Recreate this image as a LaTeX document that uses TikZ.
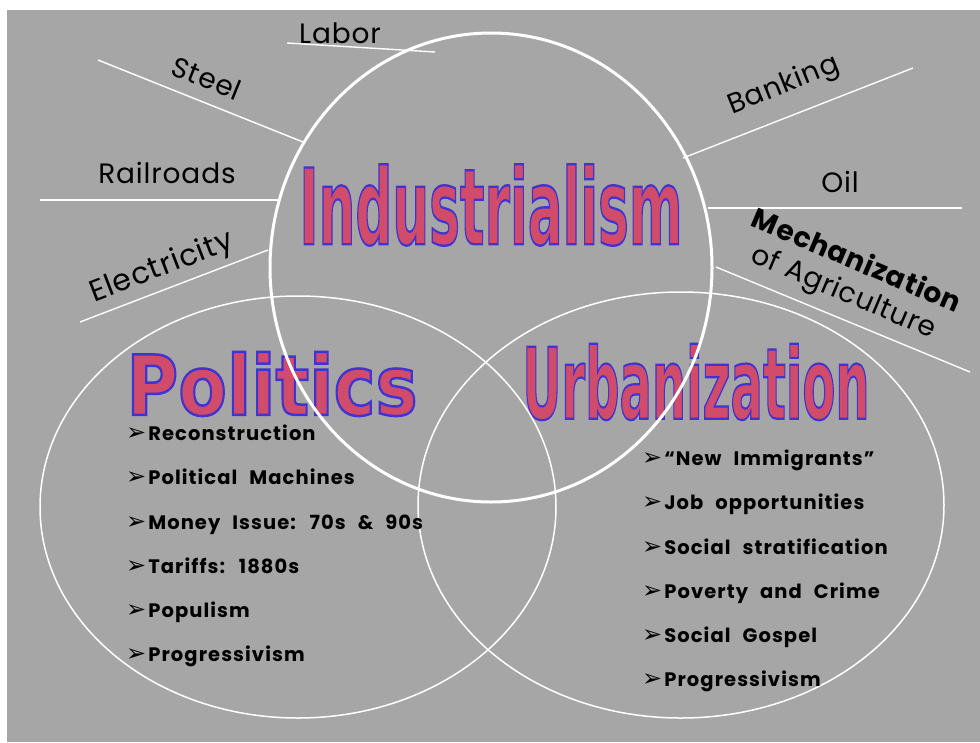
\documentclass[tikz,border=0pt]{standalone}
\usepackage{fontspec}
\setmainfont{Poppins}
\newfontfamily\titlefont{DejaVu Sans}
\newfontfamily\symfont{DejaVu Sans}
\newfontfamily\handfont[LetterSpace=3.0]{Poppins}
\newfontfamily\itemfont[LetterSpace=5.5,WordSpace=2.3]{Poppins}
\usepackage{graphicx}

\definecolor{panel}{RGB}{166,166,166}
\definecolor{titlefill}{RGB}{208,76,106}

% filled lettering with a blue outline (text render mode 2)
\newcommand{\outlinetext}[2]{%
  \special{pdf:literal direct 2 Tr #2 w 0.25 0.2 0.82 RG}#1\special{pdf:literal direct 0 Tr}}
\newcommand{\arrowmark}{{\symfont\fontsize{24}{24}\selectfont ➢}\hspace{2pt}}

\tikzset{
  label/.style={font=\handfont\fontsize{28}{28}\selectfont, text=black, inner sep=0pt},
  spoke/.style={draw=white, line width=1.4pt},
  bigring/.style={draw=white, line width=3pt},
  ring/.style={draw=white, line width=1.5pt},
  heading/.style={text=titlefill, inner sep=0pt},
  item/.style={anchor=base west, inner sep=0pt, font=\itemfont\bfseries\fontsize{19.5}{19.5}\selectfont, text=black},
}

\begin{document}
\begin{tikzpicture}[x=1pt,y=-1pt]
\useasboundingbox (0,0) rectangle (980,742);
\fill[panel] (7,10) rectangle (980,742);

% headings
\node[heading] (ind) at (491,205)
  {\resizebox{383pt}{80pt}{\titlefont\bfseries\outlinetext{Industrialism}{0.22}}};
\node[heading] (pol) at (272,384)
  {\resizebox{291pt}{63pt}{\titlefont\bfseries\outlinetext{Politics}{0.3}}};
\node[heading] (urb) at (696,382)
  {\resizebox{347pt}{75pt}{\titlefont\bfseries\outlinetext{Urbanization}{0.22}}};

% the three sets
\draw[ring] (298,507) ellipse [x radius=258, y radius=211];
\draw[ring] (681,505) ellipse [x radius=263, y radius=213];
\draw[bigring] (491,267.5) ellipse [x radius=221, y radius=234.5];

% spokes around the industrial set
\coordinate (labA) at (287,43);   \coordinate (labB) at (435,52);
\coordinate (stlA) at (98,60);    \coordinate (stlB) at (303,142);
\coordinate (rrA)  at (40,200);   \coordinate (rrB)  at (278,200);
\coordinate (elA)  at (80,322);   \coordinate (elB)  at (268,250);
\coordinate (bkA)  at (683,158);  \coordinate (bkB)  at (913,68);
\coordinate (oilA) at (708,208);  \coordinate (oilB) at (962,208);
\coordinate (agA)  at (716,267);  \coordinate (agB)  at (970,372);
\draw[spoke] (labA) -- (labB);
\draw[spoke] (stlA) -- (stlB);
\draw[spoke] (rrA) -- (rrB);
\draw[spoke] (elA) -- (elB);
\draw[spoke] (bkA) -- (bkB);
\draw[spoke] (oilA) -- (oilB);
\draw[spoke] (agA) -- (agB);

\node[label] (labor) at (340,33) {Labor};
\node[label, rotate=-22] (steel) at (207,78) {Steel};
\node[label] (rail) at (167,173) {Railroads};
\node[label, rotate=21, font=\handfont\fontsize{30}{30}\selectfont] (elec) at (162,268) {Electricity};
\node[label, rotate=22] (bank) at (784,86) {Banking};
\node[label] (oil) at (840,182) {Oil};
\node[label, rotate=-23, align=center] (mech) at (850,278)
  {\textbf{Mechanization}\\[5pt]of Agriculture};

% politics items
\node[item] (p1) at (126,440) {\arrowmark Reconstruction};
\node[item] (p2) at (126,484) {\arrowmark Political Machines};
\node[item] (p3) at (126,529) {\arrowmark Money Issue: 70s \& 90s};
\node[item] (p4) at (126,573) {\arrowmark Tariffs: 1880s};
\node[item] (p5) at (126,617) {\arrowmark Populism};
\node[item] (p6) at (126,661) {\arrowmark Progressivism};

% urbanization items
\node[item] (u1) at (642,465) {\arrowmark “New Immigrants”};
\node[item] (u2) at (642,509) {\arrowmark Job opportunities};
\node[item] (u3) at (642,554) {\arrowmark Social stratification};
\node[item] (u4) at (642,598) {\arrowmark Poverty and Crime};
\node[item] (u5) at (642,642) {\arrowmark Social Gospel};
\node[item] (u6) at (642,686) {\arrowmark Progressivism};
\end{tikzpicture}
\end{document}
